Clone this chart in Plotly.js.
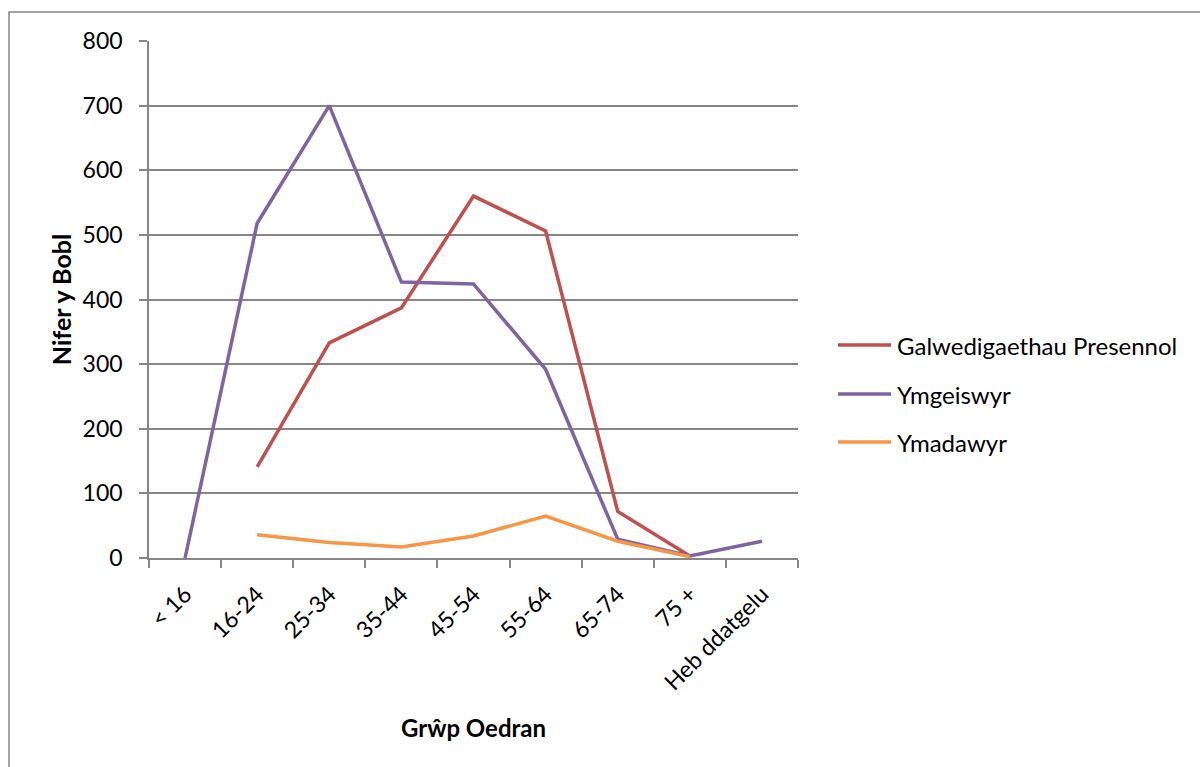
<!DOCTYPE html>
<html>
<head>
<meta charset="utf-8">
<script src="https://cdn.plot.ly/plotly-3.0.1.min.js"></script>
<style>
  html, body { margin: 0; padding: 0; background: #fff; }
  #chart { width: 1200px; height: 767px; }
</style>
</head>
<body>
<div id="chart"></div>
<script>
const categories = ["< 16", "16-24", "25-34", "35-44", "45-54", "55-64", "65-74", "75 +", "Heb ddatgelu"];
const galwedigaethau = [null, 141, 333, 387, 560, 506, 72, 3, null];
const ymgeiswyr = [0, 518, 700, 427, 424, 292, 29, 3, 26];
const ymadawyr = [null, 36, 24, 17, 34, 65, 26, 2, null];
const seriesNames = ["Galwedigaethau Presennol", "Ymgeiswyr", "Ymadawyr"];
const seriesColors = ["#C0504D", "#8064A2", "#F79646"];
const yTickVals = [0, 100, 200, 300, 400, 500, 600, 700, 800];

const FONT = "Lato, 'Open Sans', sans-serif";
const seriesValues = [galwedigaethau, ymgeiswyr, ymadawyr];

const traces = seriesValues.map((vals, i) => ({
  type: "scatter",
  mode: "lines",
  x: categories,
  y: vals,
  name: seriesNames[i],
  line: { color: seriesColors[i], width: 3.5 },
  connectgaps: false,
  showlegend: false,
  hoverinfo: "x+y+name"
}));

// plot area in pixels: left 149, right 798, top 41, bottom 558
const L = 149, R = 798, T = 41, B = 558;
const W = R - L, H = B - T;
const px = v => (v - L) / W;
const py = v => (B - v) / H;

const shapes = [
  { type: "rect", xref: "paper", yref: "paper",
    x0: px(9), x1: px(1215), y0: py(790), y1: py(12),
    line: { color: "#868686", width: 1.5 }, fillcolor: "rgba(0,0,0,0)", layer: "below" }
];
const annotations = [];
const legendRows = [345, 394, 442];
seriesNames.forEach((n, i) => {
  shapes.push({ type: "line", xref: "paper", yref: "paper",
    x0: px(838), x1: px(891), y0: py(legendRows[i]), y1: py(legendRows[i]),
    line: { color: seriesColors[i], width: 3.5 } });
  annotations.push({ xref: "paper", yref: "paper", x: px(895), y: py(legendRows[i]),
    xanchor: "left", yanchor: "middle", showarrow: false, text: n,
    font: { family: FONT, size: 24, color: "#000" } });
});

const layout = {
  width: 1200, height: 767,
  margin: { l: L, r: 1200 - R, t: T, b: 767 - B },
  paper_bgcolor: "#fff", plot_bgcolor: "#fff",
  showlegend: false,
  font: { family: FONT, size: 24, color: "#000" },
  xaxis: {
    type: "category",
    categoryorder: "array", categoryarray: categories,
    range: [-0.5, categories.length - 0.5],
    tickson: "boundaries",
    ticks: "outside", ticklen: 8, tickcolor: "#868686", tickwidth: 1.5,
    showline: true, linecolor: "#868686", linewidth: 1.5,
    showgrid: false,
    tickangle: -45,
    ticklabelstandoff: 12,
    tickfont: { family: FONT, size: 23, color: "#000" },
    title: { text: "<b>Grŵp Oedran</b>", font: { family: FONT, size: 24, color: "#000" }, standoff: 26 }
  },
  yaxis: {
    range: [0, 800],
    tickvals: yTickVals,
    ticks: "outside", ticklen: 8, tickcolor: "#868686", tickwidth: 1.5,
    showline: true, linecolor: "#868686", linewidth: 1.5,
    showgrid: true, gridcolor: "#868686", gridwidth: 1.5,
    zeroline: false,
    ticklabelstandoff: 12,
    tickfont: { family: FONT, size: 23, color: "#000" },
    title: { text: "<b>Nifer y Bobl</b>", font: { family: FONT, size: 25, color: "#000" }, standoff: 4 }
  },
  shapes: shapes,
  annotations: annotations
};

Plotly.newPlot("chart", traces, layout, { displayModeBar: false });
</script>
</body>
</html>
